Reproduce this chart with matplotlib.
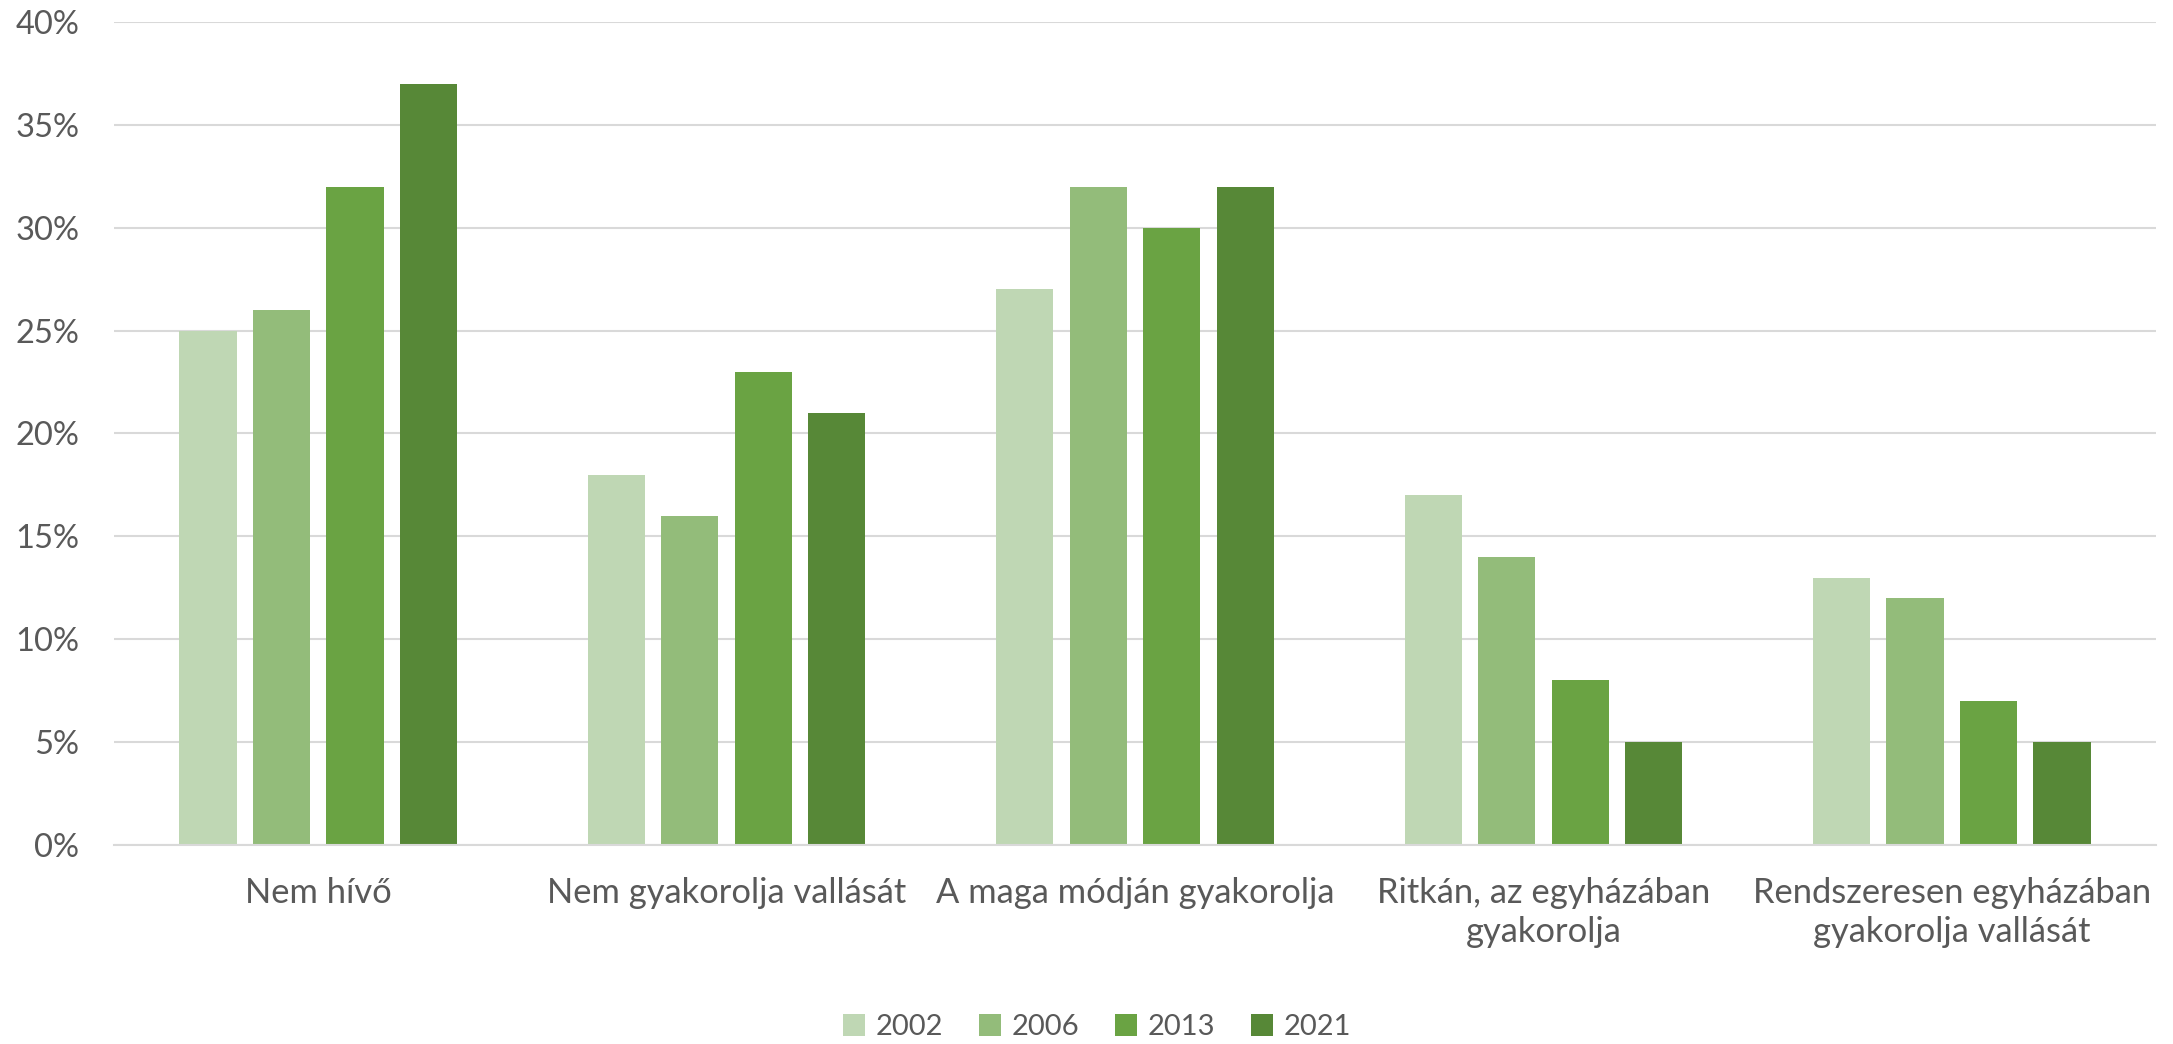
import matplotlib
matplotlib.use("Agg")
import matplotlib.pyplot as plt
from matplotlib.patches import Patch
import numpy as np

categories = ["Nem hívő", "Nem gyakorolja vallását", "A maga módján gyakorolja",
              "Ritkán, az egyházában\ngyakorolja", "Rendszeresen egyházában\ngyakorolja vallását"]
years = ["2002", "2006", "2013", "2021"]
v2002 = [25, 18, 27, 17, 13]
v2006 = [26, 16, 32, 14, 12]
v2013 = [32, 23, 30, 8, 7]
v2021 = [37, 21, 32, 5, 5]
yticks = [0, 5, 10, 15, 20, 25, 30, 35, 40]

series = [v2002, v2006, v2013, v2021]
colors = ["#BFD7B4", "#93BC7A", "#6AA343", "#578837"]
txt = "#595959"
font = ["Lato", "DejaVu Sans"]
plt.rcParams['font.family'] = font

fig = plt.figure(figsize=(21.73, 10.44), dpi=100)
ax = fig.add_axes([114/2173, 1-845/1044, (2156-114)/2173, (845-22)/1044])

x = np.arange(len(categories))
w = 0.14
step = 0.18
for i, (vals, c) in enumerate(zip(series, colors)):
    ax.bar(x + (i - 1.5) * step, vals, width=w, color=c, zorder=3, label=years[i])

ax.set_xlim(-0.5, len(categories) - 0.5)
ax.set_ylim(0, 40)
ax.set_yticks(yticks)
ax.set_yticklabels([f"{t}%" for t in yticks])
ax.set_xticks(x)
ax.set_xticklabels(categories, linespacing=1.28)
ax.tick_params(axis='y', length=0, pad=25, labelsize=23.5, labelcolor=txt)
ax.tick_params(axis='x', length=0, pad=23, labelsize=24.8, labelcolor=txt)
ax.grid(axis='y', color="#D9D9D9", linewidth=1.5, zorder=0)
for s in ["top", "right", "left"]:
    ax.spines[s].set_visible(False)
ax.spines["bottom"].set_color("#D9D9D9")
ax.spines["bottom"].set_linewidth(1.5)
ax.spines["bottom"].set_zorder(4)

handles = [Patch(facecolor=c, edgecolor='none') for c in colors]
fig.legend(handles, years, loc='center', bbox_to_anchor=(1097/2173, 1-1027/1044), ncol=4,
           frameon=False, fontsize=21, labelcolor=txt, handlelength=0.75, handleheight=0.75,
           handletextpad=0.35, columnspacing=1.25)

fig.savefig("out.png", dpi=100, facecolor="white")
